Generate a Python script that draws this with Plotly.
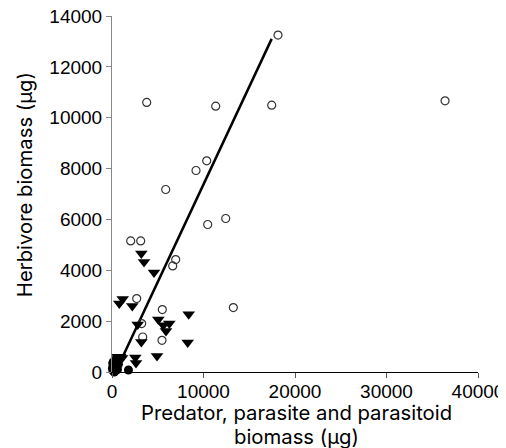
import plotly.graph_objects as go

# Open circles
open_x = [18144, 3793, 11334, 17455, 36400, 10350, 9181, 5869, 10460, 12427,
          2044, 3137, 6634, 6962, 2700, 5498, 13260, 3246, 3355, 5465]
open_y = [13250, 10600, 10455, 10495, 10664, 8303, 7925, 7177, 5800, 6036,
          5155, 5155, 4171, 4423, 2888, 2455, 2534, 1905, 1377, 1247]

# Filled down-triangles
tri_x = [3206, 3498, 4591, 1170, 798, 2219, 8383, 2809, 5061, 5607, 6263, 5902,
         3206, 8274, 2547, 2623, 4919, 600, 900, 400, 1100]
tri_y = [4660, 4330, 3911, 2873, 2692, 2597, 2270, 1865, 2062, 1838, 1905, 1613,
         1180, 1157, 567, 354, 630, 600, 600, 400, 550]

# Filled circles
fill_x = [1800, 100, 200, 300, 500, 150, 50, 250, 400, 700, 350, 600, 120, 80, 450]
fill_y = [80, 50, 100, 300, 200, 400, 150, 0, 500, 300, 50, 100, 250, 350, 150]

# Regression line endpoints
line_x = [400, 17450]
line_slope = 0.768
line_icpt = -300
line_y = [line_slope * v + line_icpt for v in line_x]

x_ticks = [0, 10000, 20000, 30000, 40000]
y_ticks = [0, 2000, 4000, 6000, 8000, 10000, 12000, 14000]

# page offset (browser body margin)
OFF = 8
PL, PR, PT, PB = 112, 478, 16, 371.7


def px(xpage):
    return (xpage - PL) / (PR - PL)


def py(ypage):
    return (PB - ypage) / (PB - PT)


fig = go.Figure()
fig.add_trace(go.Scatter(x=line_x, y=line_y, mode="lines",
                         line=dict(color="black", width=2.5), cliponaxis=False))
fig.add_trace(go.Scatter(x=open_x, y=open_y, mode="markers", cliponaxis=False,
                         marker=dict(symbol="circle-open", size=8, color="#333333",
                                     line=dict(width=1.2, color="#333333"))))
fig.add_trace(go.Scatter(x=tri_x, y=tri_y, mode="markers", cliponaxis=False,
                         marker=dict(symbol="triangle-down", size=11, color="black")))
fig.add_trace(go.Scatter(x=fill_x, y=fill_y, mode="markers", cliponaxis=False,
                         marker=dict(symbol="circle", size=9, color="black")))

title_font = dict(family="Inter", size=20.3, color="black")

fig.update_layout(
    width=506 - OFF, height=448 - OFF,
    margin=dict(l=PL - OFF, r=506 - PR, t=PT - OFF, b=448 - PB),
    plot_bgcolor="white", paper_bgcolor="white",
    showlegend=False,
    font=dict(family="Liberation Sans, Arial", size=19, color="black"),
    xaxis=dict(range=[0, 40000], tickvals=x_ticks, ticktext=[str(v) for v in x_ticks],
               showgrid=False, zeroline=False, showline=True, linecolor="black",
               linewidth=1, ticks="outside", ticklen=5, tickcolor="#555555",
               ticklabelstandoff=-3, ticklabeloverflow="allow", automargin=False),
    yaxis=dict(range=[0, 14000], tickvals=y_ticks, ticktext=[str(v) for v in y_ticks],
               showgrid=False, zeroline=False, showline=True, linecolor="#888888",
               linewidth=1, ticks="outside", ticklen=5, tickcolor="#888888",
               ticklabeloverflow="allow", automargin=False),
    annotations=[
        dict(text="Predator, parasite and parasitoid",
             xref="paper", yref="paper", x=px(296), y=py(412), xanchor="center", yanchor="middle",
             showarrow=False, font=title_font),
        dict(text="biomass (µg)",
             xref="paper", yref="paper", x=px(296), y=py(436.5), xanchor="center", yanchor="middle",
             showarrow=False, font=title_font),
        dict(text="Herbivore biomass (µg)", textangle=-90,
             xref="paper", yref="paper", x=px(24), y=py(185),
             xanchor="center", yanchor="middle",
             showarrow=False, font=title_font),
    ],
)

fig.write_html("out.html")
